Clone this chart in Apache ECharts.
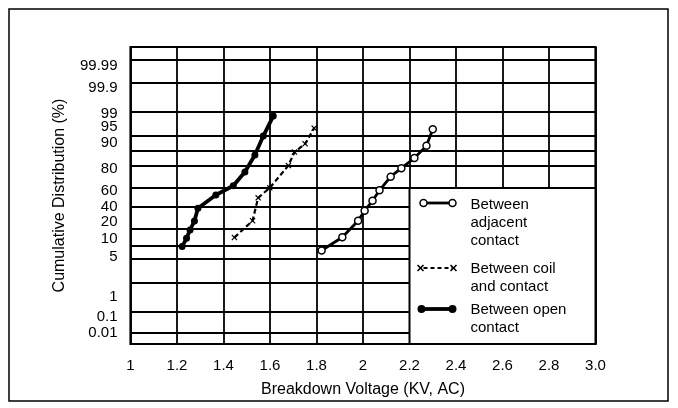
<!DOCTYPE html>
<html><head><meta charset="utf-8">
<script src="https://cdn.jsdelivr.net/npm/echarts@6/dist/echarts.min.js"></script>
<style>html,body{margin:0;padding:0;background:#fff}#c{width:678px;height:408px}</style>
</head><body><div id="c"></div>
<script>
// ---- data ----
const xTickLabels = ['1','1.2','1.4','1.6','1.8','2','2.2','2.4','2.6','2.8','3.0'];
const yTickLabels = ['99.99','99.9','99','95','90','80','60','40','20','10','5','1','0.1','0.01'];
const yTickPct = [99.99, 99.9, 99, 95, 90, 80, 60, 40, 20, 10, 5, 1, 0.1, 0.01];

const seriesNames = ['Between adjacent contact', 'Between coil and contact', 'Between open contact'];

const adjX = [1.822, 1.911, 1.979, 2.007, 2.041, 2.071, 2.119, 2.165, 2.221, 2.273, 2.300];
const adjY = [6.8, 11.0, 21.7, 35.1, 47.8, 60.6, 73.0, 80.3, 84.2, 88.9, 94.2];

const coilX = [1.447, 1.525, 1.549, 1.599, 1.679, 1.705, 1.751, 1.790];
const coilY = [10.9, 21.7, 51.5, 62.9, 81.3, 86.5, 89.7, 94.5];

const openX = [1.222, 1.241, 1.256, 1.275, 1.290, 1.367, 1.442, 1.492, 1.535, 1.571, 1.614];
const openY = [7.9, 10.4, 15.3, 21.3, 38.3, 55.0, 64.8, 77.3, 85.4, 92.1, 98.2];

// ---- probability-paper scale (axis units) ----
const yAxisMax = 297;
const yLabelPos = [278.5, 256, 230.5, 217.5, 201, 175, 153, 137, 122, 105, 87, 47, 27.5, 11];
const yGridPos = [284, 261.5, 232.7, 207.8, 193, 178.5, 156, 137.3, 114.8, 98.2, 84.8, 60.8, 32.3, 11];

function pctToPos(p) {
  for (let i = 0; i < yTickPct.length - 1; i++) {
    const a = yTickPct[i], b = yTickPct[i + 1];
    if (p <= a && p >= b) {
      return yLabelPos[i] + (p - a) / (b - a) * (yLabelPos[i + 1] - yLabelPos[i]);
    }
  }
  return p > yTickPct[0] ? yLabelPos[0] : yLabelPos[yLabelPos.length - 1];
}
function pairs(xs, ys) { return xs.map((x, i) => [x, pctToPos(ys[i])]); }

const FONT = '"Liberation Sans", Arial, Helvetica, sans-serif';
const xMark = 'path://M0,1.4L1.4,0L5,3.6L8.6,0L10,1.4L6.4,5L10,8.6L8.6,10L5,6.4L1.4,10L0,8.6L3.6,5Z';
const ZL = 100;

function crossAt(cx, cy, s) {
  return [
    {type: 'line', z: ZL + 2, shape: {x1: cx - s, y1: cy - s, x2: cx + s, y2: cy + s}, style: {stroke: '#000', lineWidth: 1.6}},
    {type: 'line', z: ZL + 2, shape: {x1: cx - s, y1: cy + s, x2: cx + s, y2: cy - s}, style: {stroke: '#000', lineWidth: 1.6}}
  ];
}

const chart = echarts.init(document.getElementById('c'), null, {renderer: 'canvas'});

const legendX = 409.5, legendY = 188, legendW = 186, legendH = 156;
const txt = (y, s) => ({type: 'text', z: ZL + 2, x: 61, y: y,
  style: {text: s, fontSize: 15, fontFamily: FONT, fill: '#000', lineHeight: 18}});

chart.setOption({
  animation: false,
  backgroundColor: '#fff',
  textStyle: {fontFamily: FONT, color: '#000'},
  grid: {left: 130.5, top: 47, width: 465, height: 297, show: true,
         borderColor: '#000', borderWidth: 2.2, backgroundColor: 'transparent'},
  xAxis: {
    type: 'value', min: 1, max: 3, interval: 0.2,
    axisLine: {show: false}, axisTick: {show: false},
    splitLine: {show: true, lineStyle: {color: '#000', width: 1.8}},
    axisLabel: {color: '#000', fontSize: 15, fontFamily: FONT, margin: 14,
      formatter: v => xTickLabels[Math.round((v - 1) / 0.2)]},
    name: 'Breakdown Voltage (KV, AC)', nameLocation: 'middle', nameGap: 38,
    nameTextStyle: {color: '#000', fontSize: 16, fontFamily: FONT}
  },
  yAxis: {
    type: 'value', min: 0, max: yAxisMax,
    axisLine: {show: false},
    axisTick: {show: false, customValues: yGridPos},
    splitLine: {show: true, lineStyle: {color: '#000', width: 1.8}},
    axisLabel: {color: '#000', fontSize: 15, fontFamily: FONT, margin: 13,
      customValues: yLabelPos,
      formatter: v => {
        let best = 0, d = 1e9;
        yLabelPos.forEach((p, i) => { if (Math.abs(p - v) < d) { d = Math.abs(p - v); best = i; } });
        return yTickLabels[best];
      }},
    name: 'Cumulative Distribution (%)', nameLocation: 'middle', nameGap: 63,
    nameTextStyle: {color: '#000', fontSize: 16, fontFamily: FONT}
  },
  series: [
    {name: seriesNames[0], type: 'line', data: pairs(adjX, adjY),
     symbol: 'circle', symbolSize: 7,
     itemStyle: {color: '#fff', borderColor: '#000', borderWidth: 1.5},
     lineStyle: {color: '#000', width: 2.8}, z: 3},
    {name: seriesNames[1], type: 'line', data: pairs(coilX, coilY),
     symbol: xMark, symbolSize: 6,
     itemStyle: {color: '#000'},
     lineStyle: {color: '#000', width: 2.2, type: [5, 3]}, z: 3},
    {name: seriesNames[2], type: 'line', data: pairs(openX, openY),
     symbol: 'circle', symbolSize: 7,
     itemStyle: {color: '#000'},
     lineStyle: {color: '#000', width: 3.8}, z: 3}
  ],
  graphic: [
    {type: 'rect', z: 0, silent: true,
     shape: {x: 9, y: 9, width: 659, height: 392}, style: {fill: 'none', stroke: '#000', lineWidth: 1.5}},
    {type: 'group', x: legendX, y: legendY, z: ZL, children: [
      {type: 'rect', z: ZL, shape: {x: 0, y: 0, width: legendW, height: legendH},
       style: {fill: '#fff', stroke: '#000', lineWidth: 2}},
      {type: 'line', z: ZL + 1, shape: {x1: 14, y1: 15, x2: 43, y2: 15}, style: {stroke: '#000', lineWidth: 2.8}},
      {type: 'circle', z: ZL + 2, shape: {cx: 14, cy: 15, r: 3.5}, style: {fill: '#fff', stroke: '#000', lineWidth: 1.5}},
      {type: 'circle', z: ZL + 2, shape: {cx: 43, cy: 15, r: 3.5}, style: {fill: '#fff', stroke: '#000', lineWidth: 1.5}},
      txt(8, 'Between\nadjacent\ncontact'),
      {type: 'line', z: ZL + 1, shape: {x1: 14, y1: 80, x2: 43, y2: 80}, style: {stroke: '#000', lineWidth: 2.2, lineDash: [4, 3]}},
      ...crossAt(11, 80, 3),
      ...crossAt(44, 80, 3),
      txt(72, 'Between coil\nand contact'),
      {type: 'line', z: ZL + 1, shape: {x1: 12, y1: 121, x2: 43, y2: 121}, style: {stroke: '#000', lineWidth: 3.8}},
      {type: 'circle', z: ZL + 2, shape: {cx: 12, cy: 121, r: 4}, style: {fill: '#000'}},
      {type: 'circle', z: ZL + 2, shape: {cx: 43, cy: 121, r: 4}, style: {fill: '#000'}},
      txt(113, 'Between open\ncontact')
    ]}
  ]
});
</script>
</body></html>
